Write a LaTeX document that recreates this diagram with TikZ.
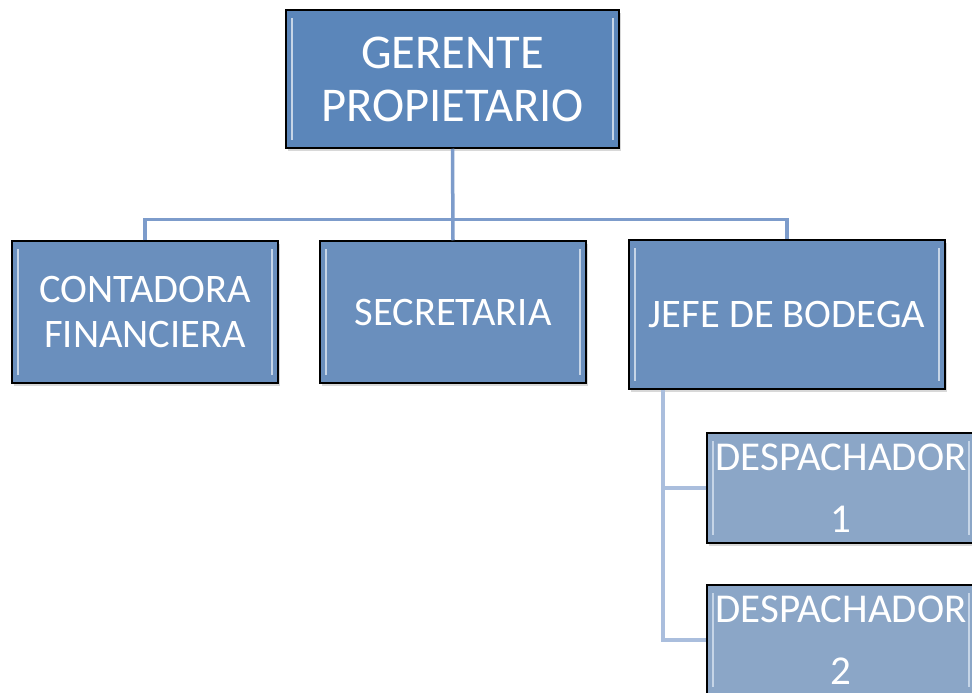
\documentclass[tikz,border=0pt]{standalone}
\usepackage{fontspec}
\setmainfont{Carlito}
\usetikzlibrary{shadows}

\definecolor{topblue}{RGB}{91,134,186}
\definecolor{midblue}{RGB}{106,143,189}
\definecolor{lowblue}{RGB}{139,166,199}
\definecolor{linkblue}{RGB}{125,156,203}
\definecolor{sublinkblue}{RGB}{170,190,221}

\tikzset{
    box/.style={draw=black,line width=1.5pt,text=white,align=center,
        drop shadow={shadow xshift=2pt,shadow yshift=-3pt,opacity=0.3},
        path picture={
            \draw[white!65!topblue,line width=2.5pt]
                ([xshift=6pt,yshift=-8pt]path picture bounding box.north west)--
                ([xshift=6pt,yshift=8pt]path picture bounding box.south west);
            \draw[white!65!topblue,line width=2.5pt]
                ([xshift=-6pt,yshift=-8pt]path picture bounding box.north east)--
                ([xshift=-6pt,yshift=8pt]path picture bounding box.south east);
        }},
    link/.style={linkblue,line width=3.5pt},
    sublink/.style={sublinkblue,line width=3.5pt}
}

\begin{document}
\begin{tikzpicture}[x=1pt,y=1pt]
    \useasboundingbox[fill=white] (0,0) rectangle (972,-693);
    % top level
    \node[box,fill=topblue,minimum width=333pt,minimum height=138pt,
        font=\fontsize{48.5}{53}\selectfont] (gerente) at (452.5,-79) {GERENTE\\PROPIETARIO};
    % second level
    \node[box,fill=midblue,minimum width=266pt,minimum height=142pt,
        font=\fontsize{40.5}{45}\selectfont] (contadora) at (145,-312) {CONTADORA\\FINANCIERA};
    \node[box,fill=midblue,minimum width=266pt,minimum height=142pt,
        font=\fontsize{40.5}{45}\selectfont] (secretaria) at (453,-312) {SECRETARIA};
    \node[box,fill=midblue,minimum width=316pt,minimum height=149pt,
        font=\fontsize{40.5}{45}\selectfont] (jefe) at (787,-314.5) {JEFE DE BODEGA};
    % third level
    \node[box,fill=lowblue,minimum width=268pt,minimum height=110pt,inner xsep=0pt,
        font=\fontsize{41}{62}\selectfont] (desp1) at (841,-488) {DESPACHADOR\\1};
    \node[box,fill=lowblue,minimum width=268pt,minimum height=110pt,inner xsep=0pt,
        font=\fontsize{41}{62}\selectfont] (desp2) at (841,-640) {DESPACHADOR\\2};
    % connectors
    \draw[link] (gerente.south)--(secretaria.north);
    \draw[link] (contadora.north)--++(0,21)-|(jefe.north);
    \coordinate (trunk) at ([xshift=-124pt]jefe.south);
    \draw[sublink] (trunk)|-(desp2.west);
    \draw[sublink] (desp1.west)--(desp1.west-|trunk);
\end{tikzpicture}
\end{document}
